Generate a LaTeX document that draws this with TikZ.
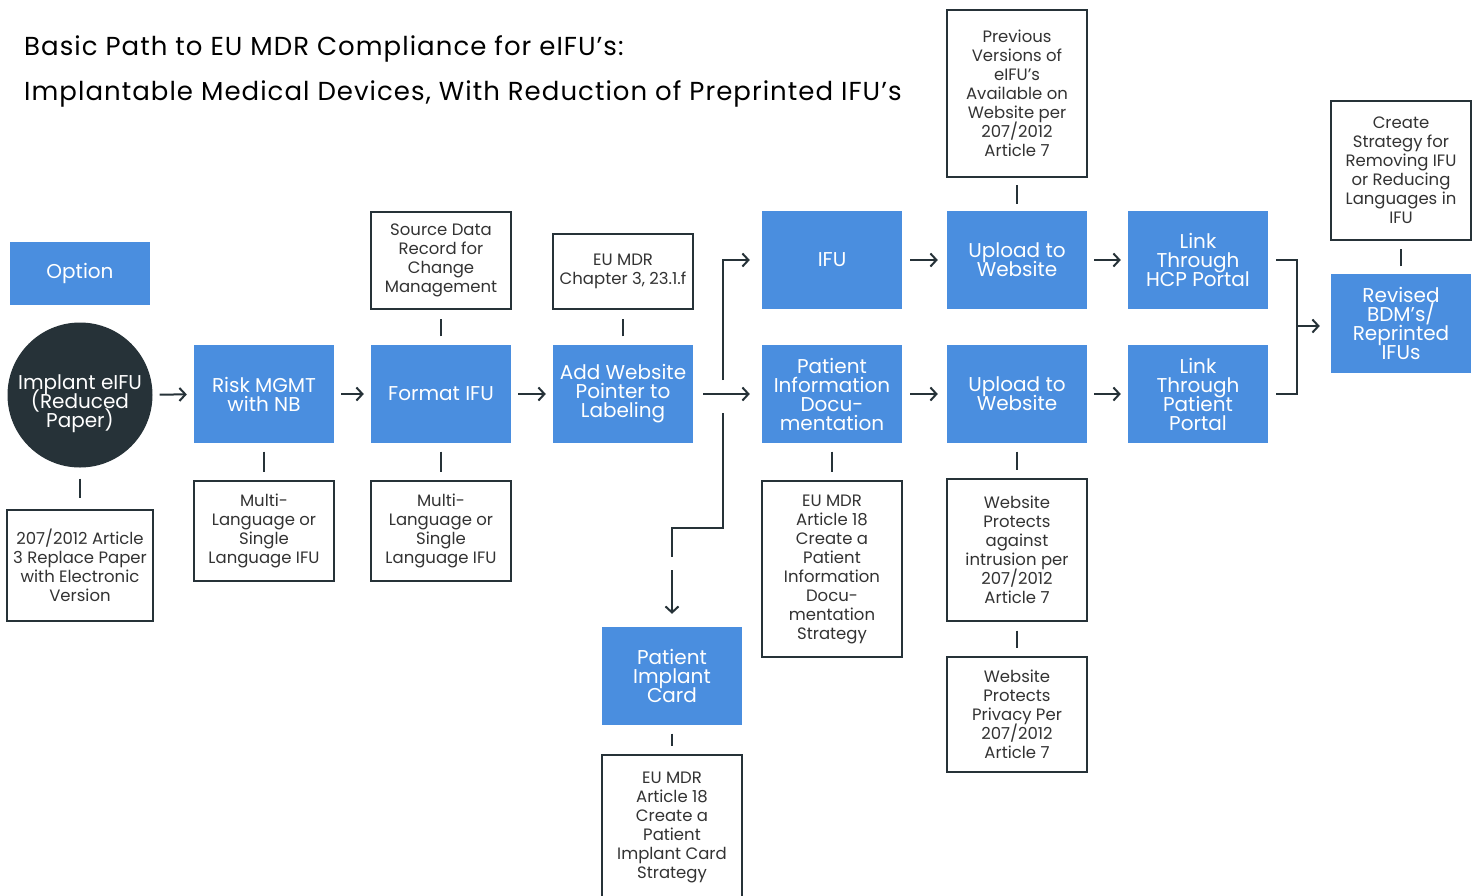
\documentclass[tikz,border=0pt]{standalone}
\usepackage{fontspec}
\setmainfont{Poppins}
\usetikzlibrary{arrows.meta,calc}
\definecolor{bluebox}{RGB}{74,142,223}
\definecolor{darkline}{RGB}{38,50,56}
\definecolor{txtgray}{RGB}{51,51,51}
\newfontfamily\titlefont[LetterSpace=4]{Poppins}
\setlength{\lineskiplimit}{-30pt}
\begin{document}
\begin{tikzpicture}[x=1pt,y=-1pt,
 bluenode/.style={fill=bluebox, text=white, minimum width=140pt, minimum height=98pt, align=center, inner sep=0pt, font=\fontsize{20}{19}\selectfont},
 notebox/.style={draw=darkline, line width=2pt, fill=white, text=txtgray, minimum width=140pt, align=center, inner sep=0pt, font=\fontsize{16.5}{19}\selectfont},
 conn/.style={draw=darkline, line width=2pt},
 arrowc/.style={conn, -{Straight Barb[length=6pt,width=13pt,line width=2pt]}, shorten <=7pt, shorten >=7pt},
 tick/.style={conn, shorten <=8.5pt, shorten >=8.5pt},
 titletext/.style={anchor=base west, inner sep=0pt, text=black, font=\titlefont\fontsize{26}{26}\selectfont},
]
\useasboundingbox (0,0) rectangle (1476,895);
\fill[white] (0,0) rectangle (1476,895);

% title
\node[titletext] (t1) at (24,55) {Basic Path to EU MDR Compliance for eIFU’s:};
\node[titletext] (t2) at (24,100) {Implantable Medical Devices, With Reduction of Preprinted IFU’s};

% blue nodes
\node[bluenode, minimum height=63pt] (option) at (80,273.5) {Option};
\node[circle, fill=darkline, minimum size=145pt, inner sep=0pt] (implant) at (80,395) {};
\node[text=white, align=center, inner sep=0pt, font=\fontsize{20}{19}\selectfont] (implanttext) at (80,404) {Implant eIFU\\(Reduced\\Paper)};
\node[bluenode] (risk) at (264,394) {Risk MGMT\\with NB};
\node[bluenode] (format) at (441,394) {Format IFU};
\node[bluenode] (addweb) at (623,394) {Add Website\\Pointer to\\Labeling};
\node[bluenode] (ifu) at (832,260) {IFU};
\node[bluenode] (patinfo) at (832,394) {Patient\\Information\\Docu-\\mentation};
\node[bluenode] (up1) at (1017,260) {Upload to\\Website};
\node[bluenode] (up2) at (1017,394) {Upload to\\Website};
\node[bluenode] (hcp) at (1198,260) {Link\\Through\\HCP Portal};
\node[bluenode] (pp) at (1198,394) {Link\\Through\\Patient\\Portal};
\node[bluenode, minimum height=99pt] (revised) at (1401,323.5) {Revised\\BDM’s/\\Reprinted\\IFUs};
\node[bluenode] (card) at (672,676) {Patient\\Implant\\Card};

% note boxes
\node[notebox, minimum width=146pt, minimum height=111pt] (n1) at (80,565.5) {207/2012 Article\\3 Replace Paper\\with Electronic\\Version};
\node[notebox, minimum height=100pt] (ml1) at (264,531) {Multi-\\Language or\\Single\\Language IFU};
\node[notebox, minimum height=97pt] (src) at (441,260.5) {Source Data\\Record for\\Change\\Management};
\node[notebox, minimum height=100pt] (ml2) at (441,531) {Multi-\\Language or\\Single\\Language IFU};
\node[notebox, minimum height=75pt] (chap) at (623,271.5) {EU MDR\\Chapter 3, 23.1.f};
\node[notebox, minimum height=176pt] (a18pid) at (832,569) {EU MDR\\Article 18\\Create a\\Patient\\Information\\Docu-\\mentation\\Strategy};
\node[notebox, minimum height=167pt] (prev) at (1017,93.5) {Previous\\Versions of\\eIFU’s\\Available on\\Website per\\207/2012\\Article 7};
\node[notebox, minimum height=142pt] (intr) at (1017,550) {Website\\Protects\\against\\intrusion per\\207/2012\\Article 7};
\node[notebox, minimum height=115pt] (priv) at (1017,714.5) {Website\\Protects\\Privacy Per\\207/2012\\Article 7};
\node[notebox, minimum height=139pt] (strat) at (1401,170.5) {Create\\Strategy for\\Removing IFU\\or Reducing\\Languages in\\IFU};
\node[notebox, minimum height=144pt] (a18pic) at (672,827) {EU MDR\\Article 18\\Create a\\Patient\\Implant Card\\Strategy};

% ticks
\draw[tick, shorten <=11pt, shorten >=11pt] (implant) -- (n1);
\draw[tick] (risk) -- (ml1);
\draw[tick] (format) -- (src);
\draw[tick] (format) -- (ml2);
\draw[tick] (addweb) -- (chap);
\draw[tick] (patinfo) -- (a18pid);
\draw[tick, shorten <=7pt, shorten >=7pt] (up1) -- (prev);
\draw[tick] (up2) -- (intr);
\draw[tick] (intr) -- (priv);
\draw[tick, shorten <=7.5pt, shorten >=7.5pt] (revised) -- (strat);
\draw[tick] (card) -- (a18pic);

% arrows main row
\draw[arrowc] (implant) -- (risk);
\draw[arrowc] (risk) -- (format);
\draw[arrowc] (format) -- (addweb);
\draw[arrowc, shorten <=10pt, shorten >=12pt] (addweb) -- (patinfo);
\draw[arrowc, shorten <=8pt, shorten >=9pt] (ifu) -- (up1);
\draw[arrowc, shorten <=8pt, shorten >=9pt] (patinfo) -- (up2);
\draw[arrowc] (up1) -- (hcp);
\draw[arrowc] (up2) -- (pp);

% branch junction
\coordinate (j) at (723,394);
\draw[arrowc, shorten <=0pt, shorten >=12pt] (j) ++(0,-14) |- (ifu.west);
\coordinate (bend) at (672,528);
\draw[conn] (j) ++(0,19) |- (bend) -- ++(0,29);
\coordinate (cardtop) at (672,570);
\draw[arrowc, shorten <=0pt, shorten >=13pt] (cardtop) -- (card.north);

% merge
\coordinate (m) at (1297,326);
\draw[conn] ([xshift=8pt]hcp.east) -| (m) |- ([xshift=8pt]pp.east);
\draw[arrowc, shorten <=0pt, shorten >=11pt] (m) -- (m -| revised.west);
\end{tikzpicture}
\end{document}
